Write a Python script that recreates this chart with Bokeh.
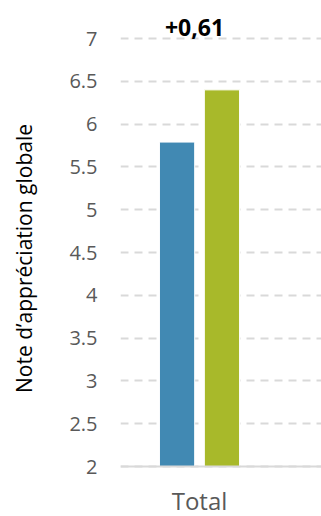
from bokeh.plotting import figure
from bokeh.models import Range1d, FixedTicker, Label, ColumnDataSource
from bokeh.embed import file_html
from bokeh.resources import INLINE

# ---- data ----
categories = ["Total"]
series_names = ["Série 1", "Série 2"]
values = [5.79, 6.40]
colors = ["#4189B3", "#A8B92A"]
y_ticks = [2, 2.5, 3, 3.5, 4, 4.5, 5, 5.5, 6, 6.5, 7]
y_tick_labels = ["2", "2.5", "3", "3.5", "4", "4.5", "5", "5.5", "6", "6.5", "7"]
y_title = "Note d’appréciation globale"

diff = values[1] - values[0]
diff_text = ("+" if diff >= 0 else "") + f"{diff:.2f}".replace(".", ",")

offsets = [-0.142, 0.142]
bar_w = 0.223

# 85.6 px per unit; 7 at y=38 px, 2 at y=466 px
p = figure(width=321, height=516, output_backend="svg", toolbar_location=None,
           x_range=Range1d(-0.5, 0.772), y_range=Range1d(2 - 50 / 85.6, 7 + 38 / 85.6),
           min_border_left=120, min_border_right=0, min_border_top=0,
           min_border_bottom=0)
p.outline_line_color = None
p.background_fill_color = "white"
p.border_fill_color = "white"

src = ColumnDataSource(dict(x=[0 + o for o in offsets], top=values, color=colors,
                            name=series_names))
p.vbar(x="x", top="top", bottom=2, width=bar_w, fill_color="color",
       line_color="white", line_width=1, source=src)

# grid
p.xgrid.grid_line_color = None
p.ygrid.ticker = FixedTicker(ticks=y_ticks)
p.ygrid.grid_line_color = "#D9D9D9"
p.ygrid.grid_line_width = 2
p.ygrid.grid_line_dash = "8 6"

# y axis
ya = p.yaxis[0]
ya.ticker = FixedTicker(ticks=y_ticks)
ya.major_label_overrides = {t: l for t, l in zip(y_ticks, y_tick_labels)}
ya.axis_line_color = None
ya.major_tick_line_color = None
ya.minor_tick_line_color = None
ya.major_tick_out = 0
ya.major_tick_in = 0
ya.minor_tick_out = 0
ya.major_label_standoff = 23
ya.major_label_text_font = "Open Sans"
ya.major_label_text_font_size = "20px"
ya.major_label_text_color = "#595959"
ya.axis_label = y_title
ya.axis_label_text_font = "Open Sans"
ya.axis_label_text_font_size = "21px"
ya.axis_label_text_font_style = "normal"
ya.axis_label_text_color = "#000000"
ya.axis_label_standoff = 28

# x axis at value 2
xa = p.xaxis[0]
xa.fixed_location = 2
xa.ticker = FixedTicker(ticks=[0])
xa.major_label_overrides = {0: categories[0]}
xa.axis_line_color = "#D9D9D9"
xa.axis_line_width = 2
xa.major_tick_line_color = None
xa.minor_tick_line_color = None
xa.major_tick_out = 0
xa.major_tick_in = 0
xa.minor_tick_out = 0
xa.major_label_standoff = 17
xa.major_label_text_font = "Open Sans"
xa.major_label_text_font_size = "24px"
xa.major_label_text_color = "#595959"

lab = Label(x=0, y=7, text=diff_text, x_offset=-5, y_offset=11,
            text_align="center", text_baseline="alphabetic",
            text_font="Open Sans", text_font_size="23px", text_font_style="bold",
            text_color="#000000")
p.add_layout(lab)

open("out.html", "w").write(file_html(p, INLINE))
